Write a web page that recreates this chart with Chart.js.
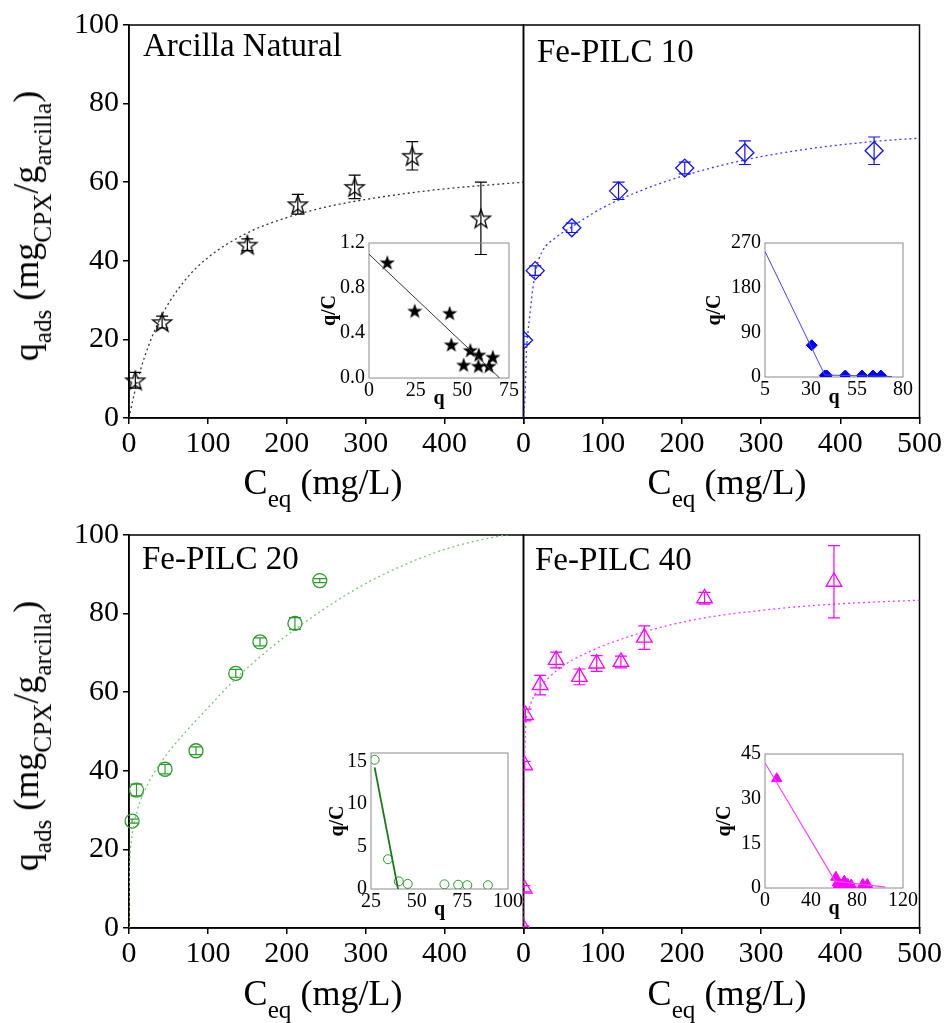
<!DOCTYPE html>
<html>
<head>
<meta charset="utf-8">
<script src="https://cdn.jsdelivr.net/npm/chart.js@4.4.1/dist/chart.umd.min.js"></script>
<style>
  html, body { margin: 0; padding: 0; background: #fff; }
  body { width: 951px; height: 1023px; position: relative; overflow: hidden;
         font-family: "Liberation Serif", "Times New Roman", serif; color: #000; }
  canvas { position: absolute; }
  .lbl { position: absolute; white-space: nowrap; line-height: 1; }
  .lbl sub { font-size: 0.7em; vertical-align: baseline; position: relative; top: 0.5em; }
  .panel { font-size: 33px; }
  .xtitle { font-size: 36px; transform: translateX(-50%); }
  .ytitle { font-size: 36px; transform: translate(-50%, -50%) rotate(-90deg); }
</style>
</head>
<body>
<canvas id="mainNatural" width="536" height="470" style="left:0;top:0"></canvas>
<canvas id="mainPilc10" width="440" height="470" style="left:511px;top:0"></canvas>
<canvas id="mainPilc20" width="536" height="470" style="left:0;top:510px"></canvas>
<canvas id="mainPilc40" width="440" height="470" style="left:511px;top:510px"></canvas>
<canvas id="insetNatural" width="209" height="182" style="left:320px;top:227px"></canvas>
<canvas id="insetPilc10" width="218" height="181" style="left:705px;top:227px"></canvas>
<canvas id="insetPilc20" width="200" height="183" style="left:328px;top:737px"></canvas>
<canvas id="insetPilc40" width="208" height="181" style="left:715px;top:738px"></canvas>

<div class="lbl panel" style="left:143px;top:29px">Arcilla Natural</div>
<div class="lbl panel" style="left:537px;top:35px">Fe-PILC 10</div>
<div class="lbl panel" style="left:142px;top:542px">Fe-PILC 20</div>
<div class="lbl panel" style="left:535px;top:543px">Fe-PILC 40</div>

<div class="lbl xtitle" style="left:323px;top:464px">C<sub>eq</sub> (mg/L)</div>
<div class="lbl xtitle" style="left:727px;top:464px">C<sub>eq</sub> (mg/L)</div>
<div class="lbl xtitle" style="left:323px;top:975px">C<sub>eq</sub> (mg/L)</div>
<div class="lbl xtitle" style="left:727px;top:975px">C<sub>eq</sub> (mg/L)</div>

<div class="lbl ytitle" style="left:26px;top:226px">q<sub>ads</sub> (mg<sub>CPX</sub>/g<sub>arcilla</sub>)</div>
<div class="lbl ytitle" style="left:26px;top:736px">q<sub>ads</sub> (mg<sub>CPX</sub>/g<sub>arcilla</sub>)</div>

<script>
// ---- axis ticks ----
const mainXTicks = [0, 100, 200, 300, 400, 500];
const mainYTicks = [0, 20, 40, 60, 80, 100];

// ---- Arcilla Natural ----
const ceqNatural = [8, 42, 150, 214, 286, 359, 446];
const qNatural = [9.6, 24.4, 44.1, 54.4, 58.8, 66.7, 50.8];
const errNatural = [2, 1.5, 1.5, 2.5, 3, 3.6, 9.2];
const fitCNatural = [0, 5, 10, 20, 40, 70, 100, 150, 200, 250, 300, 350, 400, 450, 500];
const fitQNatural = [0, 4.7, 8.9, 15.7, 25.5, 34.8, 40.8, 47.1, 51, 53.7, 55.6, 57.1, 58.3, 59.2, 60];
const insetQNatural = [9.8, 24.5, 43.2, 44.1, 50.7, 54.3, 58.6, 58.8, 64.3, 66.3];
const insetRatioNatural = [1.03, 0.6, 0.58, 0.3, 0.12, 0.25, 0.11, 0.21, 0.11, 0.19];
const lineQNatural = [0, 70];
const lineRatioNatural = [1.1, 0];
const insetXTicksNatural = [0, 25, 50, 75];
const insetYTicksNatural = [0, 0.4, 0.8, 1.2];

// ---- Fe-PILC 10 ----
const ceqPilc10 = [0, 14.8, 61, 120, 203.6, 279.5, 442.7];
const qPilc10 = [19.8, 37.5, 48.4, 57.8, 63.6, 67.5, 68];
const errPilc10 = [1, 1.2, 1.2, 2.2, 1.5, 3, 3.5];
const fitCPilc10 = [0, 1.5, 2.5, 3.5, 5.5, 7.6, 11.8, 16, 24, 40, 60, 100, 150, 200, 250, 300, 350, 400, 450, 500];
const fitQPilc10 = [0, 4, 9, 16, 21.5, 25.5, 33, 38, 42.5, 45.8, 48.5, 53.5, 58, 61.5, 64.3, 66.5, 68.2, 69.5, 70.5, 71.2];
const insetQPilc10 = [30.4, 37.5, 38.6, 48.6, 57.7, 63.7, 68];
const insetRatioPilc10 = [64, 3, 3, 3, 3, 3, 3];
const lineQPilc10 = [5, 37.5, 74];
const lineRatioPilc10 = [253, 4, 1];
const insetXTicksPilc10 = [5, 30, 55, 80];
const insetYTicksPilc10 = [0, 90, 180, 270];

// ---- Fe-PILC 20 ----
const ceqPilc20 = [3.9, 9.5, 45.7, 84.9, 135.3, 166, 210.3, 241.8];
const qPilc20 = [27.2, 35.1, 40.4, 45.1, 64.8, 72.8, 77.5, 88.4];
const errPilc20 = [0.5, 1.5, 1.2, 1, 1, 1, 1.5, 0.5];
const fitCPilc20 = [0, 0.3, 1, 3, 10, 20, 40, 70, 100, 128, 175, 214, 265, 308, 350, 395, 440, 485, 500];
const fitQPilc20 = [0, 10, 17, 22, 29.5, 35, 42, 49.5, 56, 62, 70.5, 76.5, 83.5, 88.5, 92.5, 96, 98.5, 100.3, 101];
const insetQPilc20 = [27, 34.3, 40.2, 45.1, 65.2, 72.7, 77.7, 89];
const insetRatioPilc20 = [15.2, 3.5, 0.9, 0.6, 0.55, 0.5, 0.45, 0.45];
const lineQPilc20 = [27, 39.8];
const lineRatioPilc20 = [14.3, 0];
const insetXTicksPilc20 = [25, 50, 75, 100];
const insetYTicksPilc20 = [0, 5, 10, 15];

// ---- Fe-PILC 40 ----
const ceqPilc40 = [0, 1, 1.5, 2.5, 21, 41.2, 70.6, 92.4, 123, 152.5, 228.6, 392];
const qPilc40 = [0, 10, 41.4, 54.2, 61.8, 68.2, 63.9, 67.3, 67.7, 73.9, 83.9, 88.1];
const errPilc40 = [0.5, 0.8, 1, 1.5, 2.5, 2, 2, 2, 1.5, 3, 1.5, 9.2];
const fitCPilc40 = [0, 0.5, 1, 2, 3, 6, 12, 20, 30, 45, 60, 80, 100, 125, 150, 200, 250, 300, 350, 400, 450, 500];
const fitQPilc40 = [0, 20, 35, 47, 52, 55, 58.5, 61, 63.3, 66, 68, 70, 71.8, 73.6, 75.2, 77.8, 79.6, 80.8, 81.8, 82.5, 83, 83.4];
const insetQPilc40 = [10.2, 61.6, 63, 64, 66, 69, 72, 75, 85, 89];
const insetRatioPilc40 = [36.7, 3.6, 1.7, 1.2, 1, 2.3, 1.2, 1, 1.2, 1.2];
const lineQPilc40 = [0, 61, 104.6];
const lineRatioPilc40 = [42, 2.3, 0.3];
const insetXTicksPilc40 = [0, 40, 80, 120];
const insetYTicksPilc40 = [0, 15, 30, 45];

Chart.defaults.font.family = '"Liberation Serif", "Times New Roman", serif';
Chart.defaults.color = '#000';

function pairs(xs, ys) {
  return xs.map((x, i) => ({ x: x, y: ys[i] }));
}

function starImage(r, color, filled) {
  const s = Math.ceil(2 * r + 4);
  const c = document.createElement('canvas');
  c.width = s; c.height = s;
  const g = c.getContext('2d');
  g.beginPath();
  for (let k = 0; k < 10; k++) {
    const rad = k % 2 ? r * 0.4 : r;
    const a = -Math.PI / 2 + k * Math.PI / 5;
    g.lineTo(s / 2 + rad * Math.cos(a), s / 2 + 1 + rad * Math.sin(a));
  }
  g.closePath();
  if (filled) { g.fillStyle = color; g.fill(); }
  g.strokeStyle = color;
  g.lineWidth = 1.3;
  g.stroke();
  return c;
}

// box around the plot area
const framePlugin = {
  id: 'frame',
  beforeDatasetsDraw(chart, args, opts) {
    const a = chart.chartArea, ctx = chart.ctx;
    ctx.save();
    ctx.strokeStyle = opts.color;
    ctx.lineWidth = opts.width;
    ctx.strokeRect(a.left, a.top, a.right - a.left, a.bottom - a.top);
    ctx.restore();
  }
};

// vertical error bars from dataset.errors
const errorBars = {
  id: 'errorBars',
  afterDatasetsDraw(chart) {
    const ctx = chart.ctx, a = chart.chartArea, ys = chart.scales.y;
    chart.data.datasets.forEach((ds, i) => {
      if (!ds.errors) return;
      const meta = chart.getDatasetMeta(i);
      ctx.save();
      ctx.beginPath();
      ctx.rect(a.left, a.top, a.right - a.left, a.bottom - a.top);
      ctx.clip();
      ctx.strokeStyle = ds.borderColor;
      ctx.lineWidth = 1.2;
      meta.data.forEach((pt, j) => {
        const v = ds.data[j].y, e = ds.errors[j];
        const t = ys.getPixelForValue(v + e), b = ys.getPixelForValue(v - e);
        ctx.beginPath();
        ctx.moveTo(pt.x, t); ctx.lineTo(pt.x, b);
        ctx.moveTo(pt.x - 6, t); ctx.lineTo(pt.x + 6, t);
        ctx.moveTo(pt.x - 6, b); ctx.lineTo(pt.x + 6, b);
        ctx.stroke();
      });
      ctx.restore();
    });
  }
};

function setTicks(list) {
  return scale => { scale.ticks = list.map(v => ({ value: v })); };
}

function mainChart(id, p) {
  const axisGrid = { drawOnChartArea: false, tickLength: 6, color: '#000', lineWidth: 1.5 };
  return new Chart(document.getElementById(id), {
    type: 'scatter',
    data: {
      datasets: [{
        data: pairs(p.fitC, p.fitQ),
        showLine: true,
        borderColor: p.fitColor,
        borderWidth: 1.3,
        borderDash: [2, 3],
        pointRadius: 0,
        cubicInterpolationMode: 'monotone'
      }, {
        data: pairs(p.ceq, p.q),
        errors: p.err,
        pointStyle: p.marker,
        pointRadius: p.radius,
        borderColor: p.color,
        backgroundColor: 'rgba(0,0,0,0)',
        pointBorderWidth: 1.3,
        clip: p.clip
      }]
    },
    options: {
      responsive: false,
      animation: false,
      devicePixelRatio: 1,
      layout: { padding: p.padding },
      plugins: {
        legend: { display: false },
        tooltip: { enabled: false },
        frame: { color: '#000', width: 1.5 }
      },
      scales: {
        x: {
          type: 'linear', min: 0, max: 500,
          afterBuildTicks: setTicks(mainXTicks),
          afterFit: s => { s.height = 52; },
          grid: axisGrid,
          border: { color: '#000', width: 1.5 },
          ticks: {
            font: { size: 30 }, padding: 2, autoSkip: false, maxRotation: 0,
            callback: v => (p.hideLast && v === 500) ? '' : v
          }
        },
        y: {
          display: p.showY, min: 0, max: 100,
          afterBuildTicks: setTicks(mainYTicks),
          afterFit: s => { s.width = p.showY ? 129 : 0; },
          grid: axisGrid,
          border: { color: '#000', width: 1.5 },
          ticks: { font: { size: 30 }, padding: 4 }
        }
      }
    },
    plugins: [framePlugin, errorBars]
  });
}

function insetChart(id, p) {
  const titleFont = { size: 20, weight: 'bold', lineHeight: 1 };
  return new Chart(document.getElementById(id), {
    type: 'scatter',
    data: {
      datasets: [{
        data: pairs(p.lineX, p.lineY),
        showLine: true,
        borderColor: p.lineColor,
        borderWidth: p.lineWidth,
        pointRadius: 0
      }, {
        data: pairs(p.xs, p.ys),
        pointStyle: p.marker,
        pointRadius: p.radius,
        borderColor: p.color,
        backgroundColor: p.fill,
        pointBorderWidth: 1
      }]
    },
    options: {
      responsive: false,
      animation: false,
      devicePixelRatio: 1,
      layout: { padding: { top: 14, right: 20, left: 0, bottom: 0 } },
      plugins: {
        legend: { display: false },
        tooltip: { enabled: false },
        frame: { color: '#8a8a8a', width: 1 }
      },
      scales: {
        x: {
          type: 'linear', min: p.xTicks[0], max: p.xTicks[p.xTicks.length - 1],
          afterBuildTicks: setTicks(p.xTicks),
          afterFit: s => { s.height = 31; },
          grid: { display: false, drawTicks: false },
          border: { display: false },
          ticks: { font: { size: 20 }, padding: 1, autoSkip: false, maxRotation: 0 },
          title: { display: true, text: 'q', font: titleFont, padding: 0 }
        },
        y: {
          min: p.yTicks[0], max: p.yMax,
          afterBuildTicks: setTicks(p.yTicks),
          afterFit: s => { s.width = p.yWidth; },
          grid: { display: false, drawTicks: false },
          border: { display: false },
          ticks: { font: { size: 20 }, padding: 4, autoSkip: false, callback: p.yFormat || (v => v) },
          title: { display: true, text: 'q/C', font: titleFont, padding: 0 }
        }
      }
    },
    plugins: [framePlugin]
  });
}

mainChart('mainNatural', {
  ceq: ceqNatural, q: qNatural, err: errNatural, fitC: fitCNatural, fitQ: fitQNatural,
  fitColor: '#333', color: '#000', marker: starImage(10, '#000', false), radius: 10,
  padding: { top: 25, right: 12.5, left: 0, bottom: 0 }, showY: true, hideLast: true, clip: false
});
mainChart('mainPilc10', {
  ceq: ceqPilc10, q: qPilc10, err: errPilc10, fitC: fitCPilc10, fitQ: fitQPilc10,
  fitColor: '#3a3aff', color: '#1010ff', marker: 'rectRot', radius: 9,
  padding: { top: 25, right: 31.5, left: 12.5, bottom: 0 }, showY: false, hideLast: false, clip: 0
});
mainChart('mainPilc20', {
  ceq: ceqPilc20, q: qPilc20, err: errPilc20, fitC: fitCPilc20, fitQ: fitQPilc20,
  fitColor: '#7cc47c', color: '#2a9a2a', marker: 'circle', radius: 7,
  padding: { top: 25, right: 12.5, left: 0, bottom: 0 }, showY: true, hideLast: true, clip: false
});
mainChart('mainPilc40', {
  ceq: ceqPilc40, q: qPilc40, err: errPilc40, fitC: fitCPilc40, fitQ: fitQPilc40,
  fitColor: '#ff3cff', color: '#ff00ff', marker: 'triangle', radius: 9,
  padding: { top: 25, right: 31.5, left: 12.5, bottom: 0 }, showY: false, hideLast: false, clip: 0
});

insetChart('insetNatural', {
  xs: insetQNatural, ys: insetRatioNatural, lineX: lineQNatural, lineY: lineRatioNatural,
  xTicks: insetXTicksNatural, yTicks: insetYTicksNatural, yMax: 1.2, yWidth: 49,
  yFormat: v => v.toFixed(1),
  marker: starImage(6, '#000', true), radius: 6, color: '#000', fill: '#000',
  lineColor: '#333', lineWidth: 1
});
insetChart('insetPilc10', {
  xs: insetQPilc10, ys: insetRatioPilc10, lineX: lineQPilc10, lineY: lineRatioPilc10,
  xTicks: insetXTicksPilc10, yTicks: insetYTicksPilc10, yMax: 270, yWidth: 60,
  marker: 'rectRot', radius: 5.5, color: '#0000ff', fill: '#0000ff',
  lineColor: '#4444ff', lineWidth: 1
});
insetChart('insetPilc20', {
  xs: insetQPilc20, ys: insetRatioPilc20, lineX: lineQPilc20, lineY: lineRatioPilc20,
  xTicks: insetXTicksPilc20, yTicks: insetYTicksPilc20, yMax: 16, yWidth: 43,
  marker: 'circle', radius: 4.5, color: '#2a9a2a', fill: 'rgba(0,0,0,0)',
  lineColor: '#1a7a1a', lineWidth: 1.8
});
insetChart('insetPilc40', {
  xs: insetQPilc40, ys: insetRatioPilc40, lineX: lineQPilc40, lineY: lineRatioPilc40,
  xTicks: insetXTicksPilc40, yTicks: insetYTicksPilc40, yMax: 45, yWidth: 50,
  marker: 'triangle', radius: 6, color: '#ff00ff', fill: '#ff00ff',
  lineColor: '#ff44ff', lineWidth: 1.2
});
</script>
</body>
</html>
